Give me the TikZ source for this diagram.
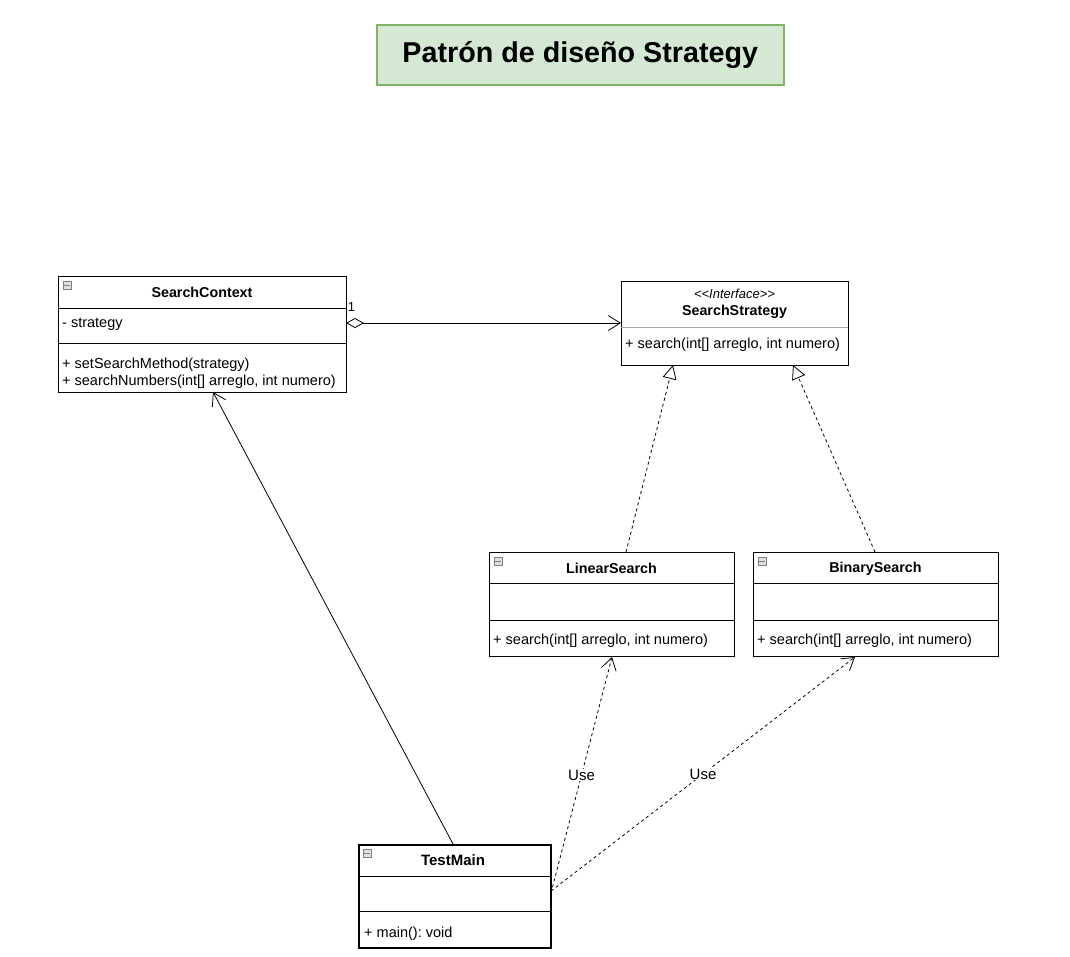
\documentclass[tikz,border=0pt]{standalone}
\usepackage{fontspec}
\setmainfont{Liberation Sans}
\usetikzlibrary{arrows.meta}
\definecolor{titlefill}{HTML}{D5E8D4}
\definecolor{titledraw}{HTML}{82B366}
\frenchspacing
\begin{document}
\begin{tikzpicture}[x=1pt,y=-1pt,
  font=\fontsize{14.5}{16}\selectfont,
  box/.style={draw, line width=1pt, inner sep=0pt, anchor=north west, fill=white},
  member/.style={anchor=west, inner sep=0pt},
  head/.style={inner sep=0pt, font=\bfseries\fontsize{14.3}{16}\selectfont},
  sep/.style={line width=1pt},
  icon/.style={draw=gray, fill=gray!25, line width=0.5pt, minimum width=8pt, minimum height=8pt, inner sep=0pt},
  openarr/.style={-{Straight Barb[length=12pt,width=15pt,line width=0.8pt]}},
  assoc/.style={line width=0.8pt, openarr},
  uses/.style={line width=0.8pt, dash pattern=on 3pt off 3pt, openarr},
  real/.style={line width=0.8pt, dash pattern=on 3pt off 3pt, -{Triangle[open,length=14pt,width=14pt,fill=white]}},
  lbl/.style={fill=white, inner sep=1pt, font=\fontsize{15}{17}\selectfont}
]
\useasboundingbox (0,0) rectangle (1070,956);

% Title
\node[draw=titledraw, fill=titlefill, line width=1.5pt, anchor=north west,
  minimum width=407pt, minimum height=60pt, inner sep=0pt,
  font=\bfseries\fontsize{28.7}{32}\selectfont] (title) at (376,24) {Patrón de diseño Strategy};

% SearchContext
\node[box, minimum width=288pt, minimum height=116pt] (ctx) at (58,276) {};
\draw[sep] (58,308) -- (346,308);
\draw[sep] (58,343) -- (346,343);
\node[icon] (ctxicon) at (67,285) {};
\draw[gray, line width=0.6pt] (64,285) -- (70,285);
\node[head] (ctxname) at (202,292.5) {SearchContext};
\node[member] (ctxattr) at (62,324.5) {- strategy};
\node[member] (ctxm1) at (62,365) {+ setSearchMethod(strategy)};
\node[member] (ctxm2) at (62,382) {+ searchNumbers(int[] arreglo, int numero)};

% SearchStrategy
\node[box, minimum width=227pt, minimum height=84pt] (strat) at (621,281) {};
\draw[gray!70, line width=0.8pt] (621,327) -- (848,327);
\node[inner sep=0pt, font=\itshape\fontsize{13}{15}\selectfont] (stratst) at (734.5,294) {<{}<Interface>{}>};
\node[head] (stratname) at (734.5,311.5) {SearchStrategy};
\node[member] (stratm) at (625,345) {+ search(int[] arreglo, int numero)};

% LinearSearch
\node[box, minimum width=245pt, minimum height=104pt] (lin) at (489,552) {};
\draw[sep] (489,583) -- (734,583);
\draw[sep] (489,620) -- (734,620);
\node[icon] (linicon) at (498,561) {};
\draw[gray, line width=0.6pt] (495,561) -- (501,561);
\node[head] (linname) at (611.5,568.5) {LinearSearch};
\node[member] (linm) at (493,641) {+ search(int[] arreglo, int numero)};

% BinarySearch
\node[box, minimum width=245pt, minimum height=104pt] (bin) at (753,552) {};
\draw[sep] (753,583) -- (998,583);
\draw[sep] (753,620) -- (998,620);
\node[icon] (binicon) at (762,561) {};
\draw[gray, line width=0.6pt] (759,561) -- (765,561);
\node[head] (binname) at (875.5,568.5) {BinarySearch};
\node[member] (binm) at (757,641) {+ search(int[] arreglo, int numero)};

% TestMain
\node[box, line width=2pt, minimum width=192pt, minimum height=103pt] (tm) at (358,844) {};
\draw[line width=1pt] (358,876) -- (550,876);
\draw[line width=1pt] (358,911) -- (550,911);
\node[icon] (tmicon) at (367,853) {};
\draw[gray, line width=0.6pt] (364,853) -- (370,853);
\node[head, font=\bfseries\fontsize{15}{17}\selectfont] (tmname) at (453,860.5) {TestMain};
\node[member] (tmm) at (364,934) {+ main(): void};

% Connectors
\coordinate (aggS) at (346,323);
\coordinate (aggE) at (621,323);
\draw[line width=0.8pt, {Diamond[open,length=18pt,width=10pt,fill=white]}-{Straight Barb[length=12pt,width=15pt,line width=0.8pt]}] (aggS) -- (aggE);
\node[inner sep=0pt, font=\fontsize{13}{15}\selectfont] (mult) at (351.5,307) {1};

\coordinate (linTop) at (626,552);
\coordinate (stratB1) at (673,365);
\draw[real] (linTop) -- (stratB1);
\coordinate (binTop) at (875,552);
\coordinate (stratB2) at (793,365);
\draw[real] (binTop) -- (stratB2);

\coordinate (tmTop) at (453,844);
\coordinate (ctxB) at (213,392);
\draw[assoc] (tmTop) -- (ctxB);

\coordinate (tmR1) at (551,893);
\coordinate (linB) at (612,657);
\draw[uses] (tmR1) -- (linB) node[lbl, pos=0.5] (use1) {Use};
\coordinate (tmR2) at (551,891);
\coordinate (binB) at (855,657);
\draw[uses] (tmR2) -- (binB) node[lbl, pos=0.5] (use2) {Use};
\end{tikzpicture}
\end{document}
